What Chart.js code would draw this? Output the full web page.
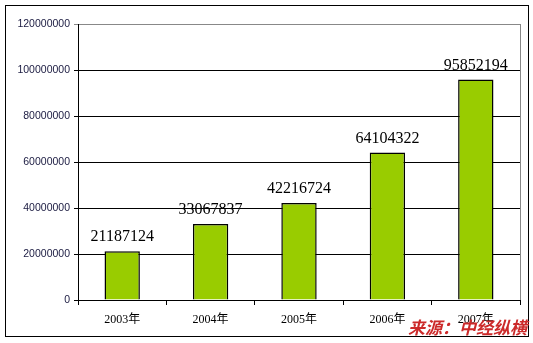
<!DOCTYPE html>
<html>
<head>
<meta charset="utf-8">
<script src="https://cdn.jsdelivr.net/npm/chart.js@4/dist/chart.umd.min.js"></script>
<style>
  html, body { margin: 0; padding: 0; background: #fff; }
  #wrap { width: 533px; height: 343px; }
</style>
</head>
<body>
<div id="wrap"><canvas id="barChart" width="533" height="343"></canvas></div>
<script>
// 数据
const years = ['2003年', '2004年', '2005年', '2006年', '2007年'];
const amounts = [21187124, 33067837, 42216724, 64104322, 95852194];
const yTicks = [0, 20000000, 40000000, 60000000, 80000000, 100000000, 120000000];
const sourceText = '来源：中经纵横';

// 柱顶数值 + 外框 + 来源
const extras = {
  id: 'extras',
  afterDatasetsDraw(chart) {
    const ctx = chart.ctx;
    const meta = chart.getDatasetMeta(0);
    ctx.save();
    ctx.font = '16px "Liberation Serif", serif';
    ctx.fillStyle = '#000';
    ctx.textAlign = 'center';
    ctx.textBaseline = 'bottom';
    meta.data.forEach((bar, i) => {
      ctx.fillText(String(amounts[i]), bar.x, bar.y - 6);
    });
    ctx.restore();
  },
  afterDraw(chart) {
    const ctx = chart.ctx;
    const a = chart.chartArea;
    ctx.save();
    // 绘图区右边框
    ctx.strokeStyle = '#888';
    ctx.lineWidth = 1;
    ctx.beginPath();
    ctx.moveTo(Math.round(a.right) + 0.5, a.top);
    ctx.lineTo(Math.round(a.right) + 0.5, a.bottom);
    ctx.stroke();
    // 外框
    ctx.strokeStyle = '#000';
    ctx.strokeRect(5.5, 5.5, 523, 331);
    // 来源
    ctx.font = 'italic bold 17px "Noto Sans CJK SC", sans-serif';
    ctx.fillStyle = '#cc2a2a';
    ctx.textAlign = 'right';
    ctx.textBaseline = 'middle';
    ctx.fillText(sourceText, 527, 328);
    ctx.restore();
  }
};

new Chart(document.getElementById('barChart').getContext('2d'), {
  type: 'bar',
  data: {
    labels: years,
    datasets: [{
      data: amounts,
      backgroundColor: '#99cc00',
      borderColor: '#000',
      borderWidth: 1.5,
      barPercentage: 0.8,
      categoryPercentage: 0.5
    }]
  },
  options: {
    responsive: false,
    animation: false,
    layout: { padding: { top: 24, right: 13, left: 0, bottom: 0 } },
    plugins: {
      legend: { display: false },
      tooltip: { enabled: false }
    },
    scales: {
      x: {
        grid: { offset: true, drawOnChartArea: false, color: '#000', tickLength: 5 },
        border: { color: '#000', width: 1 },
        ticks: {
          color: '#000',
          padding: 8,
          font: { family: '"Liberation Serif", "Noto Sans CJK SC", serif', size: 12 }
        },
        afterFit(scale) { scale.height = 43; }
      },
      y: {
        min: 0,
        max: 120000000,
        afterBuildTicks(scale) { scale.ticks = yTicks.map(v => ({ value: v })); },
        grid: {
          color: ctx => (ctx.tick && ctx.tick.value === 120000000 ? '#888' : '#000'),
          tickLength: 4
        },
        border: { color: '#000', width: 1 },
        ticks: {
          color: '#1a1a40',
          padding: 4,
          font: { family: '"Liberation Sans", sans-serif', size: 10.5 },
          callback: v => String(v)
        },
        afterFit(scale) { scale.width = 78; }
      }
    }
  },
  plugins: [extras]
});
</script>
</body>
</html>
